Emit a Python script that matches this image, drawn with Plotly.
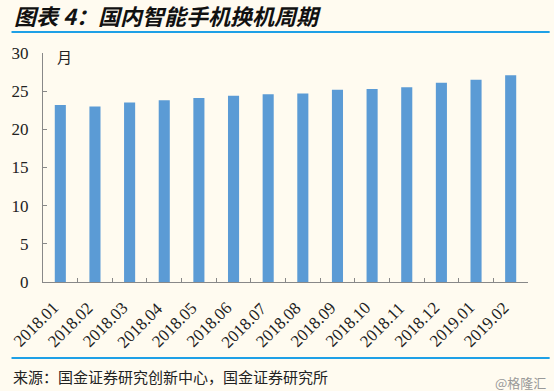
import plotly.graph_objects as go

categories = ["2018.01", "2018.02", "2018.03", "2018.04", "2018.05", "2018.06", "2018.07",
              "2018.08", "2018.09", "2018.10", "2018.11", "2018.12", "2019.01", "2019.02"]
cycle_months = [23.2, 23.0, 23.5, 23.8, 24.1, 24.4, 24.6, 24.7, 25.2, 25.3, 25.5, 26.1, 26.5, 27.1]
y_ticks = [0, 5, 10, 15, 20, 25, 30]

W, H = 554, 391
L, R, T, B = 35, 26, 53, 109
pw, ph = W - L - R, H - T - B

def px_x(px):
    return (px - L) / pw

def px_y(py):
    return (H - B - py) / ph

bg = "#fffbf0"
fig = go.Figure()
fig.add_trace(go.Bar(x=categories, y=cycle_months, marker=dict(color="#5b9bd5", line=dict(width=0)),
                     width=0.32))

fig.update_layout(
    width=W, height=H,
    margin=dict(l=L, r=R, t=T, b=B),
    paper_bgcolor=bg, plot_bgcolor=bg,
    showlegend=False,
    font=dict(family="Liberation Serif", color="#222222"),
)
fig.update_xaxes(
    type="category", categoryorder="array", categoryarray=categories,
    range=[-0.5, len(categories) - 0.5],
    showline=True, linecolor="#888888", linewidth=1,
    ticks="inside", tickson="boundaries", ticklen=4, tickcolor="#888888",
    showticklabels=False,
    showgrid=False,
)
fig.update_yaxes(
    range=[0, 30], tickvals=y_ticks,
    showline=True, linecolor="#888888", linewidth=1,
    ticks="inside", ticklen=4, tickcolor="#888888",
    tickfont=dict(size=17, family="Liberation Serif", color="#222222"),
    ticklabelstandoff=10,
    showgrid=False, zeroline=False,
)

# rotated category labels, placed on the category axis (index position)
for i, c in enumerate(categories):
    fig.add_annotation(text=c, xref="x", yref="paper", x=i, y=0,
                       xanchor="right", yanchor="top", textangle=-45, showarrow=False,
                       xshift=5, yshift=-14,
                       font=dict(size=17, family="Liberation Serif", color="#222222"))

# header / footer lines
for py in (32, 358):
    fig.add_shape(type="line", xref="paper", yref="paper",
                  x0=px_x(3), x1=px_x(550), y0=px_y(py), y1=px_y(py),
                  line=dict(color="#1ea0e6", width=2))

fig.add_annotation(text="<b><i>图表 4：国内智能手机换机周期</i></b>", xref="paper", yref="paper",
                   x=px_x(3), y=px_y(15), xanchor="left", yanchor="middle", showarrow=False,
                   font=dict(size=22, family="Noto Sans CJK SC", color="#111111"))
fig.add_annotation(text="月", xref="paper", yref="paper",
                   x=px_x(47), y=px_y(56), xanchor="left", yanchor="middle", showarrow=False,
                   font=dict(size=15, family="Noto Sans CJK SC", color="#222222"))
fig.add_annotation(text="来源：国金证券研究创新中心，国金证券研究所", xref="paper", yref="paper",
                   x=px_x(2), y=px_y(376), xanchor="left", yanchor="middle", showarrow=False,
                   font=dict(size=15, family="Noto Sans CJK SC", color="#222222"))
fig.add_annotation(text="@格隆汇", xref="paper", yref="paper",
                   x=px_x(548), y=px_y(382), xanchor="right", yanchor="middle", showarrow=False,
                   font=dict(size=13, family="Noto Sans CJK SC", color="#999999"))

post = "document.body.style.margin='0';document.body.style.overflow='hidden';"
fig.write_html("out.html", config={"displayModeBar": False}, post_script=post)
